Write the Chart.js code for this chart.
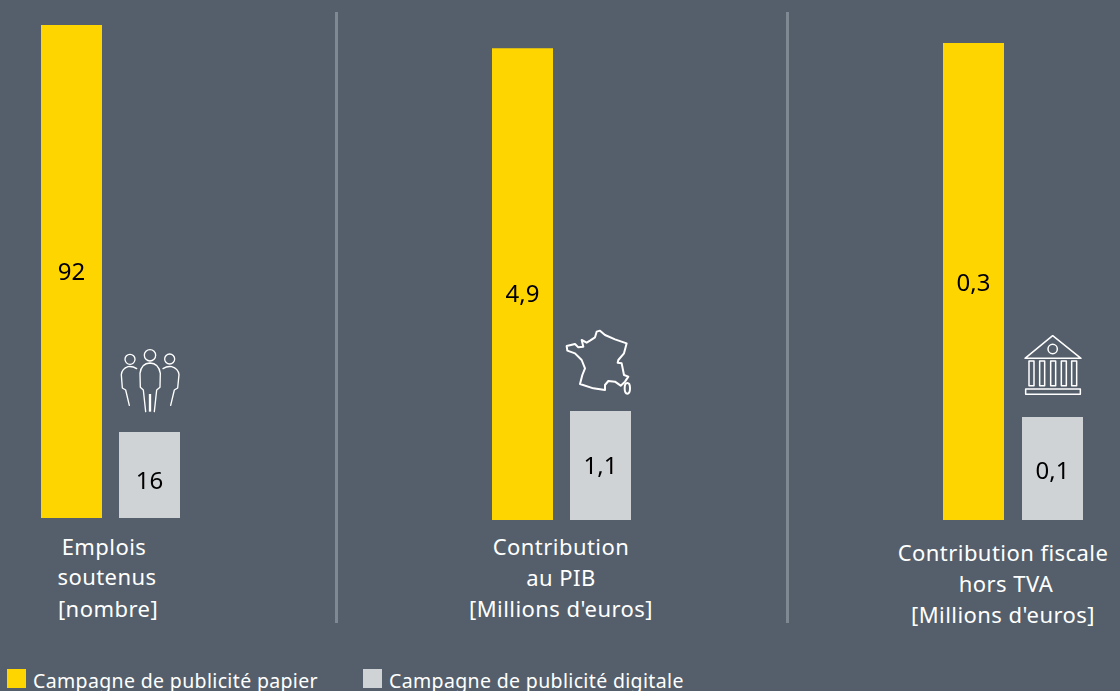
<!DOCTYPE html>
<html lang="fr">
<head>
<meta charset="utf-8">
<title>Campagne de publicité papier et digitale</title>
<script src="https://cdn.jsdelivr.net/npm/chart.js@4"></script>
<style>
    html, body { margin: 0; padding: 0; }
    body {
        position: relative;
        width: 1120px;
        height: 691px;
        overflow: hidden;
        background: #555f6b;
        font-family: "Noto Sans", sans-serif;
        color: #fff;
    }
    canvas { position: absolute; top: 0; }
    svg { position: absolute; fill: none; stroke: #fff; stroke-linejoin: round; stroke-linecap: round; }
    .divider { position: absolute; top: 12px; width: 3px; height: 611px; background: #7f8994; }
    .cat-line {
        position: absolute;
        transform: translateX(-50%);
        white-space: nowrap;
        font-size: 22px;
        line-height: 30px;
        letter-spacing: 0.45px;
    }
    .swatch { position: absolute; top: 669px; width: 19px; height: 19px; }
    .legend-text { position: absolute; top: 668px; font-size: 19.5px; line-height: 26px; white-space: nowrap; letter-spacing: 0.35px; }
</style>
</head>
<body>

<div class="divider" style="left:335px"></div>
<div class="divider" style="left:786px"></div>

<!-- Pictos above the digital bars -->
<svg style="left:100px;top:330px" width="100" height="100" viewBox="0 0 300 300" stroke-width="4">
    <circle cx="150" cy="76" r="17"/>
    <circle cx="90" cy="88" r="15"/>
    <circle cx="209" cy="87" r="15"/>
    <path d="M137 245 L130 180 L121 172 L120 130 Q124 100 150 99 Q176 100 181 130 L180 172 L170 180 L163 245"/>
    <path d="M150 192 L150 245" stroke-width="7" stroke-linecap="butt"/>
    <path d="M110 116 Q98 108 84 110 Q66 116 64 134 L67 174 L77 180 L88 226"/>
    <path d="M189 116 Q201 108 215 110 Q235 116 237 134 L233 174 L223 180 L212 226"/>
</svg>

<svg style="left:550px;top:320px" width="100" height="90" viewBox="0 0 300 270" stroke-width="6">
    <path d="M50 78 L75 72 L85 82 L100 80 L95 60 L110 68 L120 62 L135 52 L140 35 L150 32 L165 45 L195 58 L230 70 L222 100 L205 120 L203 128 L215 130 L222 165 L235 170 L225 185 L212 197 L195 185 L175 183 L165 195 L165 210 L130 205 L90 192 L97 165 L105 145 L95 120 L75 100 L52 92 Z"/>
    <ellipse cx="232" cy="205" rx="8" ry="16"/>
</svg>

<svg style="left:1005px;top:325px" width="95" height="80" viewBox="0 0 285 240" stroke-width="4.5">
    <path d="M60 100 L143 32 L228 100 Z"/>
    <circle cx="143" cy="72" r="14"/>
    <rect x="72" y="108" width="15" height="74"/>
    <rect x="104" y="108" width="15" height="74"/>
    <rect x="137" y="108" width="15" height="74"/>
    <rect x="169" y="108" width="15" height="74"/>
    <rect x="200" y="108" width="15" height="74"/>
    <rect x="62" y="192" width="164" height="16"/>
</svg>

<div class="swatch" style="left:7px;background:#ffd500"></div>
<div class="legend-text" style="left:33px">Campagne de publicité papier</div>
<div class="swatch" style="left:363px;background:#d0d3d6"></div>
<div class="legend-text" style="left:389px">Campagne de publicité digitale</div>

<script>
// Data
const seriesNames = ['Campagne de publicité papier', 'Campagne de publicité digitale'];
const paperValues = [92, 4.9, 0.3];
const digitalValues = [16, 1.1, 0.1];
const valueLabels = [['92', '16'], ['4,9', '1,1'], ['0,3', '0,1']];
const categoryLines = [
    ['Emplois', 'soutenus', '[nombre]'],
    ['Contribution', 'au PIB', "[Millions d'euros]"],
    ['Contribution fiscale', 'hors TVA', "[Millions d'euros]"]
];

// Values are rounded in the labels, so each bar gets its own hidden axis
const paperAxisMax = [96.67, 5.4, 0.327];
const digitalAxisMax = [96.4, 5.25, 0.505];

// Panel layout (canvas box, label nudges, centre of each category line)
const panels = [
    { left: 32, width: 157, height: 518, pad: 0.5, nudge: [2, 7], lines: [[104, 531], [107, 561], [108, 593]] },
    { left: 483, width: 157, height: 520, pad: 0.5, nudge: [11, 2], lines: [[561, 531], [561, 562], [561, 593]] },
    { left: 934, width: 158, height: 520, pad: 0, nudge: [3, 4], lines: [[1003, 537], [1006, 568], [1003, 599]] }
];

const COLORS = { paper: '#ffd500', digital: '#d0d3d6', value: '#000' };
const BAR_WIDTH = 61;

// Writes the value in the middle of each bar
const valueLabelPlugin = {
    id: 'valueLabels',
    afterDatasetsDraw(chart, args, opts) {
        const c = chart.ctx;
        c.save();
        c.font = '24px "Noto Sans", sans-serif';
        c.fillStyle = COLORS.value;
        c.textAlign = 'center';
        c.textBaseline = 'middle';
        chart.data.datasets.forEach((ds, i) => {
            const bar = chart.getDatasetMeta(i).data[0];
            c.fillText(opts.labels[i], bar.x, (bar.y + bar.base) / 2 + opts.nudge[i]);
        });
        c.restore();
    }
};

panels.forEach((panel, i) => {
    const canvas = document.createElement('canvas');
    canvas.style.left = panel.left + 'px';
    canvas.style.width = panel.width + 'px';
    canvas.style.height = panel.height + 'px';
    canvas.width = panel.width;
    canvas.height = panel.height;
    document.body.appendChild(canvas);

    const slot = (panel.width - panel.pad * 2) / 2;

    new Chart(canvas.getContext('2d'), {
        type: 'bar',
        data: {
            labels: [categoryLines[i].join(' ')],
            datasets: [
                { label: seriesNames[0], data: [paperValues[i]], backgroundColor: COLORS.paper, yAxisID: 'y' },
                { label: seriesNames[1], data: [digitalValues[i]], backgroundColor: COLORS.digital, yAxisID: 'yDigital' }
            ]
        },
        options: {
            responsive: false,
            animation: false,
            categoryPercentage: 1,
            barPercentage: BAR_WIDTH / slot,
            layout: { padding: { left: panel.pad, right: panel.pad, top: 0, bottom: 0 } },
            plugins: {
                legend: { display: false },
                tooltip: { enabled: false },
                valueLabels: { labels: valueLabels[i], nudge: panel.nudge }
            },
            scales: {
                x: { display: false },
                y: { display: false, min: 0, max: paperAxisMax[i] },
                yDigital: { display: false, min: 0, max: digitalAxisMax[i] }
            }
        },
        plugins: [valueLabelPlugin]
    });

    // Category captions under the bars
    categoryLines[i].forEach((text, j) => {
        const el = document.createElement('div');
        el.className = 'cat-line';
        el.textContent = text;
        el.style.left = panel.lines[j][0] + 'px';
        el.style.top = panel.lines[j][1] + 'px';
        document.body.appendChild(el);
    });
});
</script>
</body>
</html>
